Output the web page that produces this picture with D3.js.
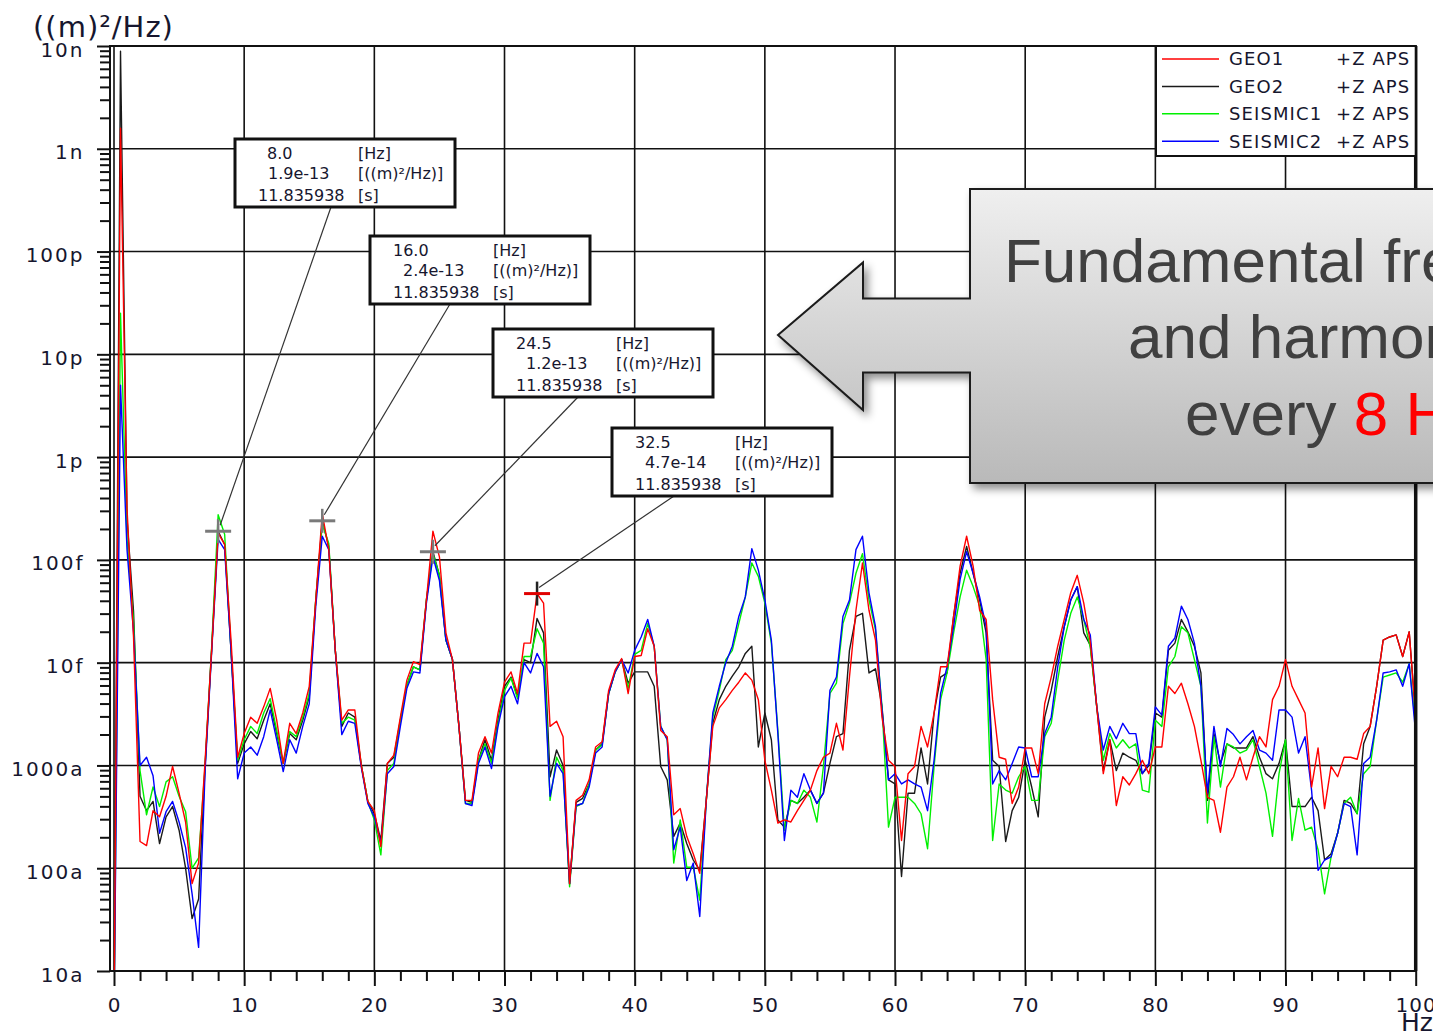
<!DOCTYPE html>
<html>
<head>
<meta charset="utf-8">
<title>Power spectral density – GEO / SEISMIC channels</title>
<script src="https://cdn.jsdelivr.net/npm/d3@7"></script>
<style>
  html, body { margin: 0; padding: 0; background: #fff; overflow: hidden; }
  svg { display: block; }
</style>
</head>
<body>
<svg id="chart" width="1433" height="1033"></svg>
<script>
// ---------------------------------------------------------------------------
// Spectrum data: log10 of the PSD in (m)^2/Hz, one value per 0.5 Hz bin, 0–100 Hz
// ---------------------------------------------------------------------------
const freqStepHz = 0.5;
const freqMaxHz = 100;

const geo1Log10 = [
  -17.5, -8.8, -12.5, -13.75, -15.74, -15.78, -15.44, -15.5, -15.3, -15.01,
  -15.27, -15.55, -16.15, -15.95, -14.95, -13.88, -12.74, -12.85, -13.8, -14.92,
  -14.69, -14.53, -14.59, -14.43, -14.25, -14.56, -14.98, -14.59, -14.69, -14.49,
  -14.23, -13.39, -12.55, -12.9, -13.88, -14.56, -14.46, -14.46, -15.0, -15.35,
  -15.44, -15.79, -14.98, -14.9, -14.53, -14.17, -13.99, -14.02, -13.39, -12.72,
  -12.97, -13.71, -13.97, -14.62, -15.34, -15.34, -14.88, -14.72, -14.88, -14.49,
  -14.19, -14.09, -14.3, -13.81, -13.81, -13.328, -13.42, -14.62, -14.57, -14.72,
  -16.15, -15.34, -15.29, -15.14, -14.82, -14.77, -14.27, -14.07, -13.96, -14.3,
  -13.94, -13.93, -13.67, -13.84, -14.66, -14.72, -15.48, -15.42, -15.69, -15.86,
  -16.05, -15.34, -14.62, -14.44, -14.36, -14.27, -14.19, -14.1, -14.17, -14.36,
  -14.95, -15.24, -15.56, -15.53, -15.55, -15.44, -15.34, -15.24, -15.05, -14.92,
  -14.88, -14.59, -14.85, -14.14, -13.49, -13.03, -13.49, -13.78, -14.53, -14.95,
  -15.01, -15.73, -15.08, -15.01, -14.62, -14.82, -14.49, -14.04, -14.04, -13.55,
  -13.06, -12.77, -13.06, -13.49, -13.58, -14.36, -14.92, -14.94, -15.37, -15.21,
  -14.83, -14.83, -15.08, -14.4, -14.14, -13.84, -13.58, -13.32, -13.15, -13.42,
  -13.8, -14.43, -15.08, -14.75, -15.39, -15.11, -15.19, -15.08, -14.95, -15.08,
  -14.82, -14.82, -14.23, -14.3, -14.2, -14.4, -14.62, -14.95, -15.31, -15.34,
  -15.65, -15.21, -15.11, -14.92, -15.14, -14.92, -14.72, -14.82, -14.36, -14.23,
  -13.97, -14.23, -14.36, -14.49, -15.21, -14.83, -15.42, -15.01, -15.11, -14.92,
  -14.92, -14.94, -14.69, -14.62, -14.23, -13.78, -13.75, -13.73, -13.94, -13.7,
  -14.53
];

const geo2Log10 = [
  -17.5, -8.05, -12.6, -13.5, -15.3, -15.44, -15.35, -15.76, -15.5, -15.4,
  -15.63, -16.0, -16.49, -16.3, -15.0, -13.88, -12.721, -12.85, -13.9, -14.98,
  -14.79, -14.67, -14.74, -14.56, -14.4, -14.69, -14.98, -14.69, -14.75, -14.56,
  -14.33, -13.39, -12.62, -12.87, -13.88, -14.62, -14.49, -14.53, -15.0, -15.35,
  -15.47, -15.73, -14.98, -14.92, -14.56, -14.22, -14.04, -14.07, -13.39, -12.92,
  -13.15, -13.78, -13.97, -14.62, -15.34, -15.36, -14.95, -14.75, -14.95, -14.56,
  -14.23, -14.14, -14.33, -13.97, -14.0, -13.57, -13.71, -15.11, -14.85, -15.0,
  -16.15, -15.36, -15.32, -15.18, -14.85, -14.79, -14.3, -14.09, -13.97, -14.2,
  -14.09, -14.09, -14.09, -14.23, -15.01, -15.14, -15.69, -15.56, -15.76, -15.92,
  -16.02, -15.34, -14.59, -14.36, -14.23, -14.13, -14.04, -13.91, -13.84, -14.82,
  -14.49, -14.75, -15.53, -15.6, -15.34, -15.37, -15.31, -15.24, -15.37, -15.27,
  -14.98, -14.72, -14.69, -13.88, -13.55, -13.52, -14.1, -14.06, -14.43, -15.14,
  -15.18, -16.08, -15.27, -15.27, -14.83, -15.18, -14.49, -14.14, -14.1, -13.55,
  -13.13, -12.87, -13.13, -13.39, -13.71, -14.95, -15.01, -15.74, -15.44, -15.31,
  -14.95, -15.21, -15.5, -14.53, -14.27, -13.94, -13.65, -13.39, -13.26, -13.71,
  -13.83, -14.43, -15.05, -14.75, -15.05, -14.88, -14.92, -14.95, -15.08, -15.0,
  -14.49, -14.53, -13.88, -13.81, -13.58, -13.7, -13.84, -14.1, -15.34, -14.69,
  -14.98, -14.79, -14.83, -14.83, -14.83, -14.72, -14.92, -15.08, -15.13, -14.98,
  -14.75, -15.4, -15.4, -15.4, -15.31, -15.44, -15.92, -15.86, -15.66, -15.34,
  -15.37, -15.47, -14.79, -14.62, -14.23, -13.78, -13.75, -13.73, -13.94, -13.7,
  -14.53
];

const seismic1Log10 = [
  -17.5, -10.6, -12.8, -13.6, -15.05, -15.48, -15.21, -15.4, -15.16, -15.11,
  -15.3, -15.45, -16.0, -15.9, -15.0, -13.85, -12.56, -12.75, -13.9, -14.95,
  -14.75, -14.62, -14.69, -14.49, -14.35, -14.66, -14.98, -14.67, -14.72, -14.53,
  -14.3, -13.39, -12.65, -12.84, -13.88, -14.59, -14.53, -14.56, -15.0, -15.35,
  -15.53, -15.87, -15.05, -14.98, -14.56, -14.22, -14.04, -14.07, -13.39, -12.94,
  -13.15, -13.78, -13.97, -14.62, -15.37, -15.37, -14.95, -14.79, -14.98, -14.59,
  -14.27, -14.15, -14.35, -13.94, -13.94, -13.67, -13.81, -15.34, -14.92, -15.05,
  -16.18, -15.4, -15.37, -15.18, -14.85, -14.8, -14.3, -14.09, -13.97, -14.25,
  -13.92, -13.88, -13.62, -13.84, -14.62, -14.75, -15.95, -15.53, -15.99, -15.99,
  -16.31, -15.34, -14.53, -14.27, -13.97, -13.88, -13.62, -13.36, -13.03, -13.16,
  -13.42, -13.81, -14.66, -15.63, -15.34, -15.37, -15.24, -15.31, -15.55, -15.01,
  -14.3, -14.2, -13.62, -13.42, -13.13, -12.94, -13.39, -13.68, -14.43, -15.6,
  -15.31, -15.31, -15.31, -15.37, -15.47, -15.81, -15.01, -14.36, -14.1, -13.71,
  -13.36, -13.1, -13.26, -13.45, -13.97, -15.73, -15.18, -15.24, -15.27, -15.11,
  -15.01, -15.34, -15.34, -14.72, -14.59, -14.17, -13.78, -13.52, -13.36, -13.58,
  -13.85, -14.43, -14.95, -14.69, -14.83, -14.75, -14.83, -14.79, -15.24, -15.26,
  -14.56, -14.62, -14.04, -13.94, -13.65, -13.71, -13.97, -14.23, -15.56, -14.72,
  -15.21, -14.79, -14.82, -14.88, -14.85, -14.75, -15.01, -15.27, -15.69, -15.08,
  -14.75, -15.73, -15.32, -15.63, -15.6, -15.82, -16.25, -15.89, -15.66, -15.37,
  -15.31, -15.47, -15.08, -15.01, -14.56, -14.14, -14.12, -14.1, -14.19, -14.01,
  -14.62
];

const seismic2Log10 = [
  -17.5, -11.3, -12.9, -13.7, -15.0, -14.92, -15.1, -15.66, -15.45, -15.35,
  -15.55, -15.8, -16.25, -16.77, -15.05, -13.9, -12.8, -12.9, -13.9, -15.13,
  -14.88, -14.82, -14.9, -14.72, -14.46, -14.75, -15.06, -14.75, -14.88, -14.62,
  -14.4, -13.45, -12.77, -12.9, -13.88, -14.7, -14.57, -14.59, -15.02, -15.37,
  -15.5, -15.76, -15.08, -15.01, -14.62, -14.25, -14.09, -14.1, -13.42, -12.97,
  -13.2, -13.78, -13.97, -14.62, -15.37, -15.39, -14.98, -14.82, -15.03, -14.62,
  -14.33, -14.23, -14.4, -14.0, -14.1, -13.91, -14.04, -15.3, -14.98, -15.08,
  -16.15, -15.39, -15.37, -15.21, -14.88, -14.82, -14.3, -14.09, -13.97, -14.1,
  -13.88, -13.75, -13.58, -13.84, -14.62, -14.75, -15.82, -15.6, -16.12, -15.95,
  -16.47, -15.34, -14.49, -14.23, -14.0, -13.84, -13.55, -13.36, -12.89, -13.1,
  -13.39, -13.78, -14.69, -15.73, -15.24, -15.31, -15.08, -15.24, -15.37, -15.27,
  -14.27, -14.14, -13.55, -13.39, -12.9, -12.77, -13.32, -13.65, -14.46, -15.14,
  -15.08, -15.18, -15.14, -15.18, -15.21, -15.44, -14.95, -14.3, -14.04, -13.65,
  -13.19, -12.92, -13.13, -13.36, -13.65, -15.18, -15.05, -15.14, -14.98, -14.82,
  -14.83, -15.11, -15.11, -14.69, -14.53, -14.04, -13.65, -13.39, -13.26, -13.58,
  -13.73, -14.43, -14.85, -14.62, -14.74, -14.59, -14.69, -14.69, -15.08, -14.98,
  -14.43, -14.51, -13.84, -13.76, -13.45, -13.58, -13.81, -14.23, -15.27, -14.62,
  -15.01, -14.64, -14.7, -14.79, -14.72, -14.66, -14.85, -14.88, -14.95, -14.46,
  -14.46, -14.53, -14.88, -14.72, -15.24, -16.02, -15.92, -15.89, -15.66, -15.37,
  -15.4, -15.87, -14.98, -14.92, -14.56, -14.1, -14.09, -14.07, -14.23, -14.01,
  -14.69
];

// Channel legend
const seriesNames  = ["GEO1", "GEO2", "SEISMIC1", "SEISMIC2"];
const seriesSuffix = "+Z APS";
const seriesColors = ["#ff0000", "#1a1a1a", "#00f000", "#0000ff"];
const seriesLog10  = [geo1Log10, geo2Log10, seismic1Log10, seismic2Log10];
const drawOrder    = [1, 2, 3, 0];          // GEO1 is painted last (on top)

// Cursor read-outs (frequency, PSD, time) and the channel each cursor sits on
const cursorFreqs   = [8.0, 16.0, 24.5, 32.5];
const cursorValues  = [1.9e-13, 2.4e-13, 1.2e-13, 4.7e-14];
const cursorTimes   = ["11.835938", "11.835938", "11.835938", "11.835938"];
const cursorChannel = [1, 1, 1, 0];

// Axis ticks
const yDecades     = [1e-17, 1e-16, 1e-15, 1e-14, 1e-13, 1e-12, 1e-11, 1e-10, 1e-9, 1e-8];
const yTickLabels  = ["10a", "100a", "1000a", "10f", "100f", "1p", "10p", "100p", "1n", "10n"];
const xMajorTicks  = [0, 10, 20, 30, 40, 50, 60, 70, 80, 90, 100];
const xMinorTicks  = [2, 4, 6, 8, 12, 14, 16, 18, 22, 24, 26, 28, 32, 34, 36, 38, 42, 44, 46, 48,
                      52, 54, 56, 58, 62, 64, 66, 68, 72, 74, 76, 78, 82, 84, 86, 88, 92, 94, 96, 98];

// Callout text
const calloutLines = ["Fundamental frequency", "and harmonics", "every "];
const calloutHighlight = "8 Hz";

// ---------------------------------------------------------------------------
// Layout
// ---------------------------------------------------------------------------
const svg = d3.select("#chart");
const frameLeft = 110;
const plot = { left: 114, right: 1415.7, top: 46, bottom: 971 };
const axisFont = "'DejaVu Sans', Verdana, sans-serif";
const labelInk = "#16162e";

const x = d3.scaleLinear().domain([0, freqMaxHz]).range([plot.left, plot.right]);
const y = d3.scaleLog().domain([1e-17, 1e-8]).range([plot.bottom, plot.top]);

const freqs = d3.range(0, freqMaxHz + freqStepHz / 2, freqStepHz);
const series = seriesLog10.map(arr => arr.map((v, i) => ({ f: freqs[i], v: Math.pow(10, v) })));

const defs = svg.append("defs");
defs.append("clipPath").attr("id", "plotClip")
  .append("rect")
  .attr("x", frameLeft).attr("y", plot.top)
  .attr("width", plot.right - frameLeft).attr("height", plot.bottom - plot.top);

const grad = defs.append("linearGradient").attr("id", "calloutFill")
  .attr("x1", 0).attr("y1", 0).attr("x2", 0).attr("y2", 1);
grad.append("stop").attr("offset", "0%").attr("stop-color", "#efefef");
grad.append("stop").attr("offset", "100%").attr("stop-color", "#b9b9b9");

const shadow = defs.append("filter").attr("id", "softShadow")
  .attr("x", "-10%").attr("y", "-10%").attr("width", "130%").attr("height", "130%");
shadow.append("feDropShadow")
  .attr("dx", 4).attr("dy", 5).attr("stdDeviation", 4)
  .attr("flood-color", "#000").attr("flood-opacity", 0.45);

// --- grid ---------------------------------------------------------------
const grid = svg.append("g").attr("stroke", "#111").attr("stroke-width", 1.6);
grid.selectAll("line.vx")
  .data(xMajorTicks.filter(t => t < freqMaxHz))
  .join("line")
  .attr("x1", d => x(d)).attr("x2", d => x(d))
  .attr("y1", plot.top).attr("y2", plot.bottom);
grid.selectAll("line.hy")
  .data(yDecades.slice(1, -1))
  .join("line")
  .attr("x1", frameLeft).attr("x2", plot.right)
  .attr("y1", d => y(d)).attr("y2", d => y(d));

// --- spectra ------------------------------------------------------------
const line = d3.line().x(d => x(d.f)).y(d => y(Math.max(d.v, 1e-19)));
const traces = svg.append("g").attr("clip-path", "url(#plotClip)");
drawOrder.forEach(i => {
  traces.append("path")
    .datum(series[i])
    .attr("fill", "none")
    .attr("stroke", seriesColors[i])
    .attr("stroke-width", 1.4)
    .attr("stroke-linejoin", "round")
    .attr("d", line);
});

// --- frame --------------------------------------------------------------
svg.append("rect")
  .attr("x", frameLeft).attr("y", plot.top)
  .attr("width", plot.right - frameLeft).attr("height", plot.bottom - plot.top)
  .attr("fill", "none").attr("stroke", "#111").attr("stroke-width", 2);
svg.append("line")
  .attr("x1", plot.right).attr("x2", plot.right)
  .attr("y1", plot.top).attr("y2", plot.bottom)
  .attr("stroke", "#111").attr("stroke-width", 3.5);

// --- y axis -------------------------------------------------------------
const yMinor = [];
yDecades.slice(0, -1).forEach(d => { for (let m = 2; m <= 9; m++) yMinor.push(d * m); });

const yMinorAxis = svg.append("g").attr("transform", `translate(${frameLeft},0)`)
  .call(d3.axisLeft(y).tickValues(yMinor).tickSize(10).tickSizeOuter(0).tickFormat(""));
const yMajorAxis = svg.append("g").attr("transform", `translate(${frameLeft},0)`)
  .call(d3.axisLeft(y).tickValues(yDecades).tickSize(13).tickSizeOuter(0).tickPadding(12.5)
    .tickFormat((d, i) => yTickLabels[i]));
[yMinorAxis, yMajorAxis].forEach(g => {
  g.select(".domain").remove();
  g.selectAll(".tick line").attr("stroke", "#111").attr("stroke-width", 2);
});
yMajorAxis.selectAll(".tick text")
  .attr("font-family", axisFont).attr("font-size", 20)
  .attr("letter-spacing", 2).attr("fill", labelInk).attr("dy", "0.5em");

// --- x axis -------------------------------------------------------------
const xMinorAxis = svg.append("g").attr("transform", `translate(0,${plot.bottom})`)
  .call(d3.axisBottom(x).tickValues(xMinorTicks).tickSize(10).tickSizeOuter(0).tickFormat(""));
const xMajorAxis = svg.append("g").attr("transform", `translate(0,${plot.bottom})`)
  .call(d3.axisBottom(x).tickValues(xMajorTicks).tickSize(15).tickSizeOuter(0).tickPadding(12)
    .tickFormat(d3.format("d")));
[xMinorAxis, xMajorAxis].forEach(g => {
  g.select(".domain").remove();
  g.selectAll(".tick line").attr("stroke", "#111").attr("stroke-width", 2);
});
xMajorAxis.selectAll(".tick text")
  .attr("font-family", axisFont).attr("font-size", 20)
  .attr("letter-spacing", 1).attr("fill", labelInk);

// axis units
svg.append("text")
  .attr("x", 33).attr("y", 37)
  .attr("font-family", axisFont).attr("font-size", 29).attr("letter-spacing", 1)
  .attr("fill", labelInk)
  .text("((m)²/Hz)");
svg.append("text")
  .attr("x", 1401).attr("y", 1031)
  .attr("font-family", axisFont).attr("font-size", 25)
  .attr("fill", labelInk)
  .text("Hz");

// --- legend -------------------------------------------------------------
const legend = svg.append("g");
legend.append("rect")
  .attr("x", 1156).attr("y", plot.top)
  .attr("width", plot.right - 1156).attr("height", 110)
  .attr("fill", "#fff").attr("stroke", "#111").attr("stroke-width", 2);
seriesNames.forEach((name, i) => {
  const cy = 59 + i * 27.4;
  legend.append("line")
    .attr("x1", 1162).attr("x2", 1219).attr("y1", cy).attr("y2", cy)
    .attr("stroke", seriesColors[i]).attr("stroke-width", 1.5);
  legend.append("text")
    .attr("x", 1229).attr("y", cy).attr("dy", "0.36em")
    .attr("font-family", axisFont).attr("font-size", 18).attr("letter-spacing", 1.1)
    .attr("fill", labelInk).text(name);
  legend.append("text")
    .attr("x", 1336).attr("y", cy).attr("dy", "0.36em")
    .attr("font-family", axisFont).attr("font-size", 18).attr("letter-spacing", 1.1)
    .attr("fill", labelInk).text(seriesSuffix);
});

// --- cursor read-out boxes, leaders and cross-hairs ------------------------
const boxW = 220, boxH = 68;
const boxPos = [
  { bx: 235, by: 139, lead: 96, fx: 32 },
  { bx: 370, by: 236, lead: 80, fx: 23 },
  { bx: 493, by: 329, lead: 85, fx: 23 },
  { bx: 612, by: 428, lead: 62, fx: 23 }
];
const fmtFreq = d3.format(".1f");
const fmtVal  = d3.format(".1e");
const ann = svg.append("g");

cursorFreqs.forEach((f, i) => {
  const p = boxPos[i];
  const mx = x(f), my = y(cursorValues[i]);
  // leader
  ann.append("line")
    .attr("x1", p.bx + p.lead).attr("y1", p.by + boxH)
    .attr("x2", mx + 2).attr("y2", my - 6)
    .attr("stroke", "#333").attr("stroke-width", 1.2);
  // cross-hair
  const onGeo1 = cursorChannel[i] === 0;
  ann.append("line")
    .attr("x1", mx).attr("x2", mx).attr("y1", my - 12).attr("y2", my + 12)
    .attr("stroke", onGeo1 ? "#222" : "#7a7a7a").attr("stroke-width", 2.5);
  ann.append("line")
    .attr("x1", mx - 13).attr("x2", mx + 13).attr("y1", my).attr("y2", my)
    .attr("stroke", onGeo1 ? "#e00000" : "#7a7a7a").attr("stroke-width", 3);
  // box
  const g = ann.append("g").attr("transform", `translate(${p.bx},${p.by})`);
  g.append("rect").attr("width", boxW).attr("height", boxH)
    .attr("fill", "#fff").attr("stroke", "#111").attr("stroke-width", 3);
  const rows = [
    { dx: p.fx, val: fmtFreq(f), unit: "[Hz]", cy: 14 },
    { dx: 33, val: fmtVal(cursorValues[i]), unit: "[((m)²/Hz)]", cy: 34.5 },
    { dx: 23, val: cursorTimes[i], unit: "[s]", cy: 56 }
  ];
  rows.forEach(r => {
    g.append("text").attr("x", r.dx).attr("y", r.cy).attr("dy", "0.36em")
      .attr("font-family", axisFont).attr("font-size", 16).attr("fill", labelInk)
      .text(r.val);
    g.append("text").attr("x", 123).attr("y", r.cy).attr("dy", "0.36em")
      .attr("font-family", axisFont).attr("font-size", 16).attr("fill", labelInk)
      .text(r.unit);
  });
});

// --- callout arrow --------------------------------------------------------
const callout = svg.append("g");
const arrowPts = [
  [778, 335], [863, 262.5], [863, 298.5], [970, 298.5], [970, 189],
  [1480, 189], [1480, 483], [970, 483], [970, 372.5], [863, 372.5], [863, 410]
];
callout.append("path")
  .attr("d", d3.line()(arrowPts) + "Z")
  .attr("fill", "url(#calloutFill)")
  .attr("stroke", "#1a1a1a").attr("stroke-width", 2)
  .attr("stroke-linejoin", "miter")
  .attr("filter", "url(#softShadow)");

const calloutFont = "'Liberation Sans', Arial, sans-serif";
const calloutPos = [[1004, 282], [1128, 358], [1185, 435]];
calloutLines.forEach((t, i) => {
  const txt = callout.append("text")
    .attr("x", calloutPos[i][0]).attr("y", calloutPos[i][1])
    .attr("font-family", calloutFont).attr("font-size", 62)
    .attr("fill", "#404040")
    .text(t);
  if (i === calloutLines.length - 1) {
    txt.append("tspan").attr("fill", "#ff0000").text(calloutHighlight);
  }
});
</script>
</body>
</html>
